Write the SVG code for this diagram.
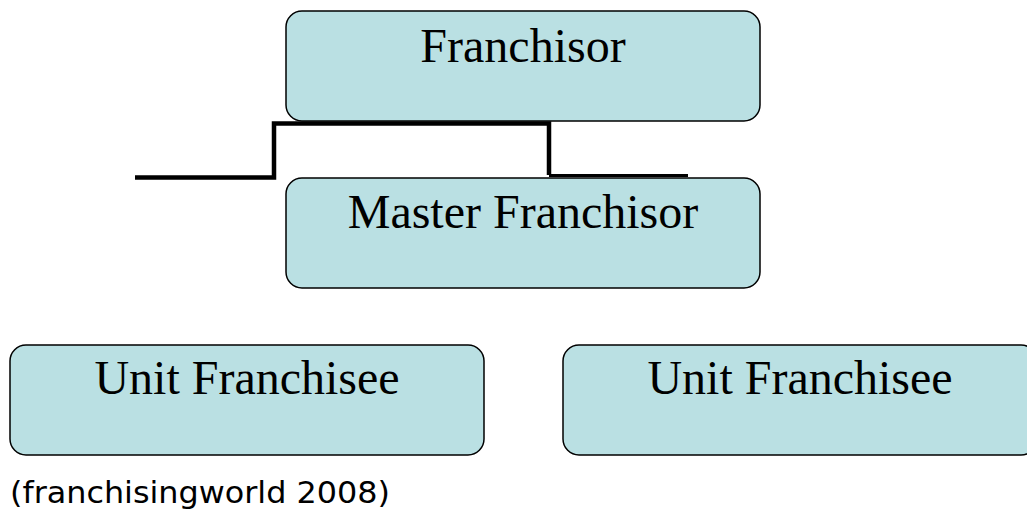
<svg xmlns="http://www.w3.org/2000/svg" width="1027" height="515" viewBox="0 0 1027 515">
<style>
.box{fill:#bae0e3;stroke:#000;stroke-width:1.5}
.lbl{font-family:"Liberation Serif",serif;font-size:48px;fill:#000;text-anchor:middle}
.cap{font-family:"DejaVu Sans",sans-serif;font-size:31px;fill:#000}
.con{fill:none;stroke:#000;stroke-width:4.5}
</style>
<rect width="1027" height="515" fill="#fff"/>
<g id="franchisor"><rect class="box" x="286" y="11" width="474" height="110" rx="16"/><text class="lbl" x="523" y="62">Franchisor</text></g>
<g id="master"><rect class="box" x="286" y="178" width="474" height="110" rx="16"/><text class="lbl" x="523" y="228">Master Franchisor</text></g>
<g id="unit1"><rect class="box" x="10" y="345" width="474" height="110" rx="16"/><text class="lbl" x="247" y="394">Unit Franchisee</text></g>
<g id="unit2"><rect class="box" x="563" y="345" width="474" height="110" rx="16"/><text class="lbl" x="800" y="394">Unit Franchisee</text></g>
<g id="connectors">
<path class="con" d="M135,177.5 H274 V123.5 H549 V175"/>
<path class="con" style="stroke-width:3" d="M549,175.5 H688"/>
</g>
<text class="cap" x="10" y="503" textLength="380" lengthAdjust="spacingAndGlyphs">(franchisingworld 2008)</text>
</svg>
